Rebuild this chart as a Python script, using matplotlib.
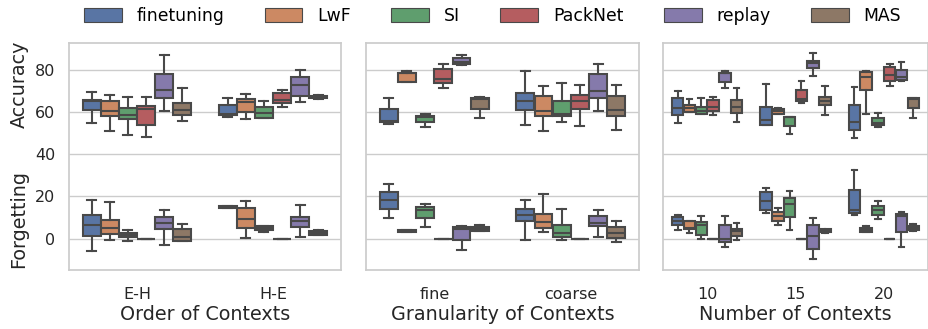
import colorsys
import matplotlib
matplotlib.use("Agg")
import matplotlib.pyplot as plt
import matplotlib.colors as mcolors
from matplotlib.patches import Patch

methods = ["finetuning", "LwF", "SI", "PackNet", "replay", "MAS"]
deep = ["#4C72B0", "#DD8452", "#55A868", "#C44E52", "#8172B3", "#937860"]

# each box: [whisker low, q1, median, q3, whisker high], one row per method
order_cats = ["E-H", "H-E"]
order_acc = [
    [[54.9, 61.1, 65.0, 65.8, 69.4], [50.8, 58.2, 60.6, 65.0, 68.2],
     [49.2, 56.7, 58.7, 62.0, 67.2], [48.3, 53.6, 61.5, 63.0, 67.2],
     [60.6, 66.6, 70.5, 78.1, 87.1], [55.7, 58.4, 61.1, 64.1, 71.2]],
    [[57.6, 58.7, 59.2, 63.3, 66.7], [56.7, 60.0, 64.7, 66.3, 68.5],
     [57.0, 57.0, 59.5, 62.5, 65.0], [62.3, 64.2, 65.8, 69.1, 70.5],
     [64.7, 67.4, 72.9, 76.7, 79.7], [66.2, 66.4, 67.0, 67.6, 68.0]],
]
order_forg = [
    [[-6.0, 1.4, 6.6, 11.4, 18.3], [-0.5, 2.4, 5.0, 8.8, 17.2],
     [-1.3, 0.6, 1.6, 2.8, 4.1], [0, 0, 0, 0, 0],
     [-3.2, 4.6, 7.6, 10.4, 13.7], [-1.3, -0.9, 0.8, 4.4, 6.8]],
    [[14.4, 14.5, 15.0, 15.5, 15.6], [0.2, 5.0, 9.3, 14.5, 18.0],
     [3.3, 4.1, 4.9, 6.0, 6.0], [0, 0, 0, 0, 0],
     [0.6, 5.5, 8.2, 10.5, 15.9], [1.6, 1.9, 2.8, 3.7, 4.0]],
]

gran_cats = ["fine", "coarse"]
gran_acc = [
    [[54.4, 55.1, 55.5, 61.4, 66.4], [74.3, 74.3, 78.4, 78.6, 79.5],
     [52.9, 55.4, 57.6, 58.2, 58.9], [71.2, 73.7, 75.6, 80.3, 82.5],
     [82.0, 82.7, 83.8, 85.4, 86.8], [57.3, 61.5, 66.0, 66.4, 66.9]],
    [[53.8, 60.9, 65.0, 69.0, 79.5], [51.0, 57.9, 60.6, 67.4, 72.3],
     [55.1, 57.9, 59.2, 65.0, 73.8], [53.5, 61.5, 65.0, 68.0, 72.6],
     [60.6, 66.4, 70.1, 78.1, 82.8], [51.3, 58.2, 61.1, 67.4, 72.9]],
]
gran_forg = [
    [[9.9, 14.0, 18.3, 22.1, 26.0], [3.1, 3.3, 3.8, 4.2, 4.3],
     [5.7, 9.6, 13.7, 15.0, 16.2], [0, 0, 0, 0, 0],
     [-5.4, -0.5, 4.7, 5.4, 6.0], [3.5, 3.5, 4.7, 5.5, 6.6]],
    [[-0.5, 8.2, 11.4, 14.0, 18.3], [3.1, 4.9, 8.0, 11.5, 21.0],
     [-0.8, 0.9, 2.7, 6.5, 13.9], [0, 0, 0, 0, 0],
     [0.6, 6.2, 7.4, 10.9, 13.7], [-1.4, 0.5, 2.5, 5.5, 8.5]],
]

num_cats = ["10", "15", "20"]
num_acc = [
    [[54.9, 58.5, 61.9, 66.7, 69.7], [60.1, 60.1, 61.7, 63.1, 66.3],
     [59.2, 59.2, 60.5, 62.3, 66.4], [58.5, 60.3, 62.3, 65.6, 67.2],
     [71.3, 74.2, 78.3, 78.6, 79.2], [55.2, 59.5, 62.2, 65.8, 71.5]],
    [[53.8, 53.8, 56.3, 62.5, 73.4], [58.9, 59.2, 60.3, 61.2, 61.7],
     [49.4, 53.3, 57.5, 57.8, 57.8], [64.4, 65.3, 66.3, 70.5, 74.8],
     [77.2, 80.8, 83.0, 84.3, 87.7], [58.5, 63.1, 65.3, 67.1, 72.4]],
    [[47.7, 51.3, 55.2, 63.3, 71.8], [59.0, 70.5, 76.5, 78.8, 79.3],
     [52.9, 54.0, 54.6, 57.3, 59.6], [72.4, 74.5, 77.6, 81.1, 82.7],
     [74.8, 75.3, 76.5, 80.0, 83.5], [57.3, 61.7, 66.3, 66.6, 66.6]],
]
num_forg = [
    [[4.3, 6.5, 8.5, 10.4, 11.0], [2.7, 4.6, 4.9, 8.6, 8.6],
     [-0.2, 1.6, 6.5, 7.9, 10.6], [0, 0, 0, 0, 0],
     [-4.1, -1.4, -0.2, 6.3, 10.6], [-0.8, 1.1, 3.8, 4.7, 7.4]],
    [[12.1, 13.4, 18.0, 22.2, 24.1], [6.5, 8.5, 10.6, 12.5, 14.4],
     [4.1, 10.3, 16.2, 19.2, 22.7], [0, 0, 0, 0, 0],
     [-9.8, -4.7, 1.3, 6.5, 9.6], [2.7, 3.3, 4.1, 4.6, 4.3]],
    [[11.2, 12.1, 13.4, 23.0, 32.7], [3.1, 3.1, 4.3, 4.9, 6.2],
     [9.5, 11.2, 13.6, 15.6, 17.8], [0, 0, 0, 0, 0],
     [-4.1, 3.2, 10.9, 11.7, 12.5], [3.5, 3.9, 4.9, 6.0, 7.1]],
]

panels = [
    (order_cats, order_acc, order_forg, "Order of Contexts"),
    (gran_cats, gran_acc, gran_forg, "Granularity of Contexts"),
    (num_cats, num_acc, num_forg, "Number of Contexts"),
]


def desat(c, s=0.75):
    h, l, sat = colorsys.rgb_to_hls(*mcolors.to_rgb(c))
    return colorsys.hls_to_rgb(h, l, sat * s)


colors = [desat(c) for c in deep]
lum = min(colorsys.rgb_to_hls(*mcolors.to_rgb(c))[1] for c in colors) * 0.6
line_col = (lum, lum, lum)
grid_col = "#cccccc"

fig = plt.figure(figsize=(9.29, 3.29), dpi=100)
W, H = 929, 329
boxes_px = [(69, 341), (366, 639), (663, 928)]
top_px, bot_px = 43, 270

n = len(methods)
bw = 0.8 / n
for (x0, x1), (cats, acc, forg, xlabel) in zip(boxes_px, panels):
    ax = fig.add_axes([x0 / W, 1 - bot_px / H, (x1 - x0) / W, (bot_px - top_px) / H])
    for data in (acc, forg):
        for ci, rows in enumerate(data):
            for mi, row in enumerate(rows):
                lo, q1, med, q3, hi = row
                st = dict(whislo=lo, q1=q1, med=med, q3=q3, whishi=hi, fliers=[])
                pos = ci - 0.4 + bw * (mi + 0.5)
                ax.bxp([st], positions=[pos], widths=bw * 0.98, patch_artist=True,
                       showfliers=False, manage_ticks=False,
                       boxprops=dict(facecolor=colors[mi], edgecolor=line_col, linewidth=1.5),
                       medianprops=dict(color=line_col, linewidth=1.5),
                       whiskerprops=dict(color=line_col, linewidth=1.5),
                       capprops=dict(color=line_col, linewidth=1.5))
    ax.set_xlim(-0.5, len(cats) - 0.5)
    ax.set_ylim(-14.8, 92.6)
    ax.set_xticks(range(len(cats)))
    ax.set_xticklabels(cats)
    ax.set_yticks([0, 20, 40, 60, 80])
    ax.yaxis.grid(True, color=grid_col, linewidth=1)
    ax.set_axisbelow(True)
    for sp in ax.spines.values():
        sp.set_color(grid_col)
        sp.set_linewidth(1.25)
    ax.tick_params(axis="both", length=0, labelsize=11.5, colors="#262626")
    ax.tick_params(axis="x", pad=12.5)
    ax.tick_params(axis="y", pad=10)
    if x0 != 69:
        ax.tick_params(axis="y", labelleft=False)
    ax.set_xlabel(xlabel, fontsize=13.8, color="#262626", labelpad=2)

fig.text(19 / W, 1 - 84 / H, "Accuracy", rotation=90, ha="center", va="center",
         fontsize=13.8, color="#262626")
fig.text(19 / W, 1 - 219 / H, "Forgetting", rotation=90, ha="center", va="center",
         fontsize=13.8, color="#262626")

handles = [Patch(facecolor=c, edgecolor=line_col, linewidth=0.8) for c in colors]
fig.legend(handles, methods, loc="center", bbox_to_anchor=(0.530, 1 - 16 / H),
           ncol=6, frameon=False, fontsize=12.4, handlelength=2.2, handleheight=0.85,
           handletextpad=0.85, columnspacing=2.35)

fig.savefig("out.png", dpi=100)
